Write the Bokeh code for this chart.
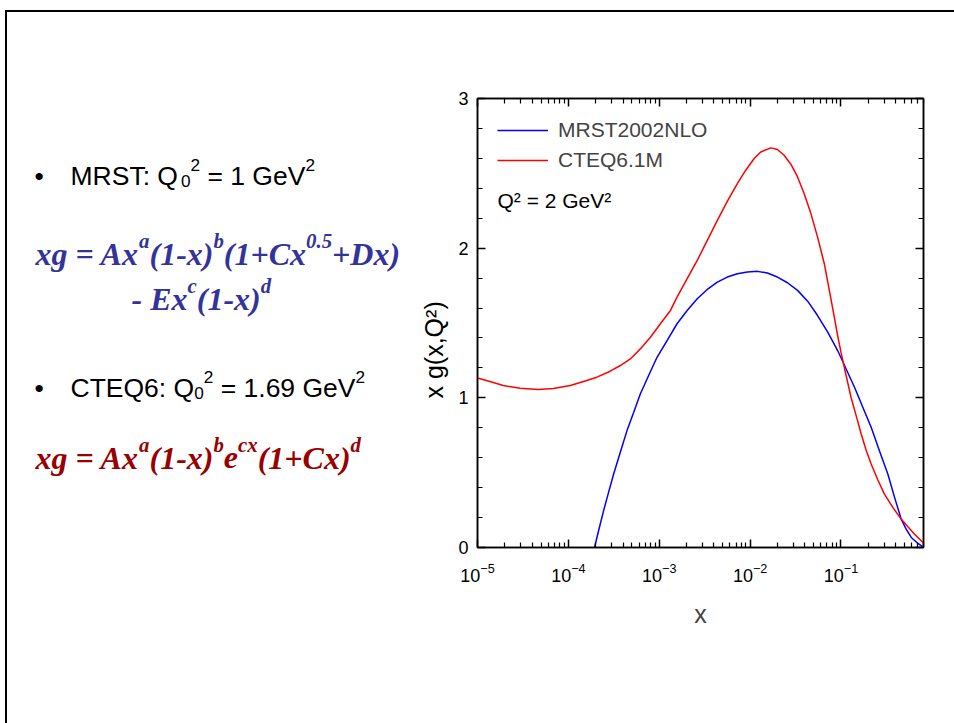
from bokeh.plotting import figure
from bokeh.layouts import row
from bokeh.models import (Label, LogAxis, LinearAxis, FixedTicker, Legend,
                          LegendItem, CustomJSTickFormatter, Range1d, Title)
from bokeh.embed import file_html
from bokeh.resources import INLINE

# ---------------- data ----------------
mrst_x = [1.94e-4, 2.15e-4, 2.44e-4, 2.77e-4, 3.15e-4, 3.73e-4, 4.42e-4, 5.24e-4,
          6.19e-4, 7.65e-4, 9.46e-4, 1.22e-3, 1.57e-3, 2.03e-3, 2.62e-3, 3.38e-3,
          4.36e-3, 5.61e-3, 7.24e-3, 9.33e-3, 1.21e-2, 1.55e-2, 2.0e-2, 2.58e-2,
          3.33e-2, 4.30e-2, 5.53e-2, 7.15e-2, 9.2e-2, 0.114, 0.141, 0.174,
          0.215, 0.265, 0.328, 0.389, 0.460, 0.522, 0.594, 0.703, 0.80]
mrst_y = [0.0, 0.112, 0.245, 0.368, 0.491, 0.636, 0.781, 0.903,
          1.026, 1.149, 1.271, 1.383, 1.495, 1.584, 1.662, 1.724,
          1.773, 1.807, 1.829, 1.840, 1.845, 1.834, 1.807, 1.769,
          1.718, 1.646, 1.550, 1.439, 1.316, 1.193, 1.071, 0.937,
          0.803, 0.647, 0.491, 0.335, 0.190, 0.123, 0.067, 0.027, 0.004]

cteq_x = [1.0e-5, 1.37e-5, 1.92e-5, 2.93e-5, 4.68e-5, 6.84e-5, 1.05e-4, 1.47e-4,
          2.06e-4, 2.89e-4, 3.73e-4, 4.81e-4, 6.19e-4, 8.0e-4, 1.03e-3, 1.33e-3,
          1.57e-3, 2.03e-3, 2.62e-3, 3.38e-3, 4.36e-3, 5.61e-3, 7.24e-3, 8.95e-3,
          1.11e-2, 1.31e-2, 1.69e-2, 2.0e-2, 2.37e-2, 2.81e-2, 3.33e-2, 3.94e-2,
          4.67e-2, 5.53e-2, 6.56e-2, 7.45e-2, 8.45e-2, 9.2e-2, 0.100, 0.114,
          0.129, 0.147, 0.167, 0.189, 0.215, 0.255, 0.301, 0.372,
          0.460, 0.546, 0.646, 0.80]
cteq_y = [1.133, 1.109, 1.082, 1.064, 1.055, 1.062, 1.082, 1.109,
          1.138, 1.178, 1.216, 1.260, 1.327, 1.405, 1.495, 1.584,
          1.673, 1.796, 1.918, 2.052, 2.186, 2.313, 2.431, 2.521,
          2.599, 2.643, 2.670, 2.659, 2.621, 2.561, 2.476, 2.364,
          2.231, 2.074, 1.896, 1.718, 1.539, 1.416, 1.305, 1.149,
          1.004, 0.881, 0.758, 0.651, 0.558, 0.451, 0.357, 0.268,
          0.190, 0.138, 0.089, 0.033]

series_names = ["MRST2002NLO", "CTEQ6.1M"]
x_major_ticks = [1e-5, 1e-4, 1e-3, 1e-2, 1e-1]
x_minor_ticks = [m * 10.0 ** k for k in range(-5, 0) for m in range(2, 10)]
y_major_ticks = [0, 1, 2, 3]
y_minor_ticks = [round(0.2 * i, 1) for i in range(16)]

# slide text: (text, position) pieces; position n = normal, sub, sup
mrst_line = [("MRST: Q", "n"), ("0", "sub"), ("2", "sup"), (" = 1 GeV", "n"), ("2", "sup")]
cteq_line = [("CTEQ6: Q", "n"), ("0", "sub"), ("2", "sup"), (" = 1.69 GeV", "n"), ("2", "sup")]
mrst_formula_1 = [("xg = Ax", "n"), ("a", "sup"), ("(1-x)", "n"), ("b", "sup"),
                  ("(1+Cx", "n"), ("0.5", "sup"), ("+Dx)", "n")]
mrst_formula_2 = [("- Ex", "n"), ("c", "sup"), ("(1-x)", "n"), ("d", "sup")]
cteq_formula = [("xg = Ax", "n"), ("a", "sup"), ("(1-x)", "n"), ("b", "sup"),
                ("e", "n"), ("cx", "sup"), ("(1+Cx)", "n"), ("d", "sup")]

SANS = "Liberation Sans"
SERIF = "Liberation Serif"
BLUE = "#333399"
RED = "#990000"

# approximate advance widths (em) used only to lay pieces side by side
SANS_W = {"M": .833, "R": .722, "S": .667, "T": .611, ":": .278, " ": .278,
          "Q": .778, "C": .722, "E": .667, "6": .556, "0": .556, "2": .556,
          "=": .584, "1": .556, ".": .278, "9": .556, "G": .778, "e": .556,
          "V": .667}
SERIF_W = {"x": .5, "g": .5, " ": .25, "=": .570, "A": .667, "a": .5, "(": .333,
           "1": .5, "-": .333, ")": .333, "b": .5, "+": .570, "C": .667,
           "0": .5, ".": .25, "5": .5, "D": .722, "E": .667, "c": .444,
           "d": .5, "e": .444}

# ---------------- page geometry ----------------
X0, Y0 = 7, 12          # page position of the canvas origin (after border)
SPLIT = 404             # page x where the chart figure starts
TW = 954                # page x where the content ends
H = 711
FL, FT, FR, FB = 477, 98, 923, 547   # chart frame on the page

# ================= left text panel =================
left = figure(width=SPLIT - X0, height=H,
              x_range=Range1d(X0, SPLIT), y_range=Range1d(FB, FT),
              x_axis_location=None, y_axis_location=None,
              output_backend="svg", toolbar_location=None,
              min_border_left=0, min_border_right=0,
              min_border_top=FT - Y0, min_border_bottom=H - (FB - Y0))
left.grid.visible = False
left.outline_line_color = None
left.background_fill_color = "white"
left.border_fill_color = "white"

def tl(px, py, text, size, color="black", font=SANS, style="normal"):
    left.add_layout(Label(x=px, y=py, text=text, text_font=font,
                          text_font_size=f"{size}px", text_font_style=style,
                          text_color=color, text_baseline="alphabetic"))

def seq(x, base, parts, size, widths, color="black", font=SANS,
        style="normal", sub_drop=5, sup_raise=0.38):
    small = round(size * 0.65, 1)
    for text, kind in parts:
        s = size if kind == "n" else small
        y = base if kind == "n" else (base + sub_drop if kind == "sub"
                                      else base - sup_raise * size)
        lead = len(text) - len(text.lstrip(" "))
        x += sum(widths[c] for c in text[:lead]) * s
        tl(x, y, text.strip(" "), s, color, font, style)
        x += sum(widths[c] for c in text[lead:]) * s

BI = "bold italic"
tl(34, 175, "•", 26.5)
seq(70, 175, mrst_line, 26.5, SANS_W)
seq(35, 253, mrst_formula_1, 32, SERIF_W, BLUE, SERIF, BI, sup_raise=0.4)
seq(131, 298, mrst_formula_2, 32, SERIF_W, BLUE, SERIF, BI, sup_raise=0.4)
tl(34, 387, "•", 26.5)
seq(70, 387, cteq_line, 26.5, SANS_W)
seq(35, 457, cteq_formula, 32, SERIF_W, RED, SERIF, BI, sup_raise=0.4)

# ================= chart =================
W = TW - SPLIT
p = figure(width=W, height=H, x_axis_type="log",
           x_range=(1e-5, 0.81), y_range=(0, 3),
           output_backend="svg", toolbar_location=None,
           min_border_left=FL - SPLIT, min_border_right=W - (FR - SPLIT),
           min_border_top=FT - Y0, min_border_bottom=H - (FB - Y0))
p.grid.visible = False
p.outline_line_color = "black"
p.outline_line_width = 1.5
p.background_fill_color = "white"
p.border_fill_color = "white"

r_mrst = p.line(mrst_x, mrst_y, line_color="#0000ff", line_width=1.5)
r_cteq = p.line(cteq_x, cteq_y, line_color="#ff0000", line_width=1.5)

def style_axis(ax):
    ax.axis_line_color = "black"
    ax.axis_line_width = 1.5
    ax.major_tick_line_width = 1.5
    ax.minor_tick_line_width = 1.2
    ax.major_tick_in = 8
    ax.major_tick_out = 0
    ax.minor_tick_in = 5
    ax.minor_tick_out = 0
    ax.major_label_text_font = SANS
    ax.major_label_text_font_size = "18px"
    ax.major_label_text_color = "black"

xt = FixedTicker(ticks=x_major_ticks, minor_ticks=x_minor_ticks)
yt = FixedTicker(ticks=y_major_ticks, minor_ticks=y_minor_ticks)
p.xaxis.ticker = xt
p.yaxis.ticker = yt
for ax in p.xaxis + p.yaxis:
    style_axis(ax)
p.xaxis.major_label_standoff = 15
p.yaxis.major_label_standoff = 9
p.xaxis.axis_label = "x"
p.xaxis.axis_label_text_font = SANS
p.xaxis.axis_label_text_font_size = "25px"
p.xaxis.axis_label_text_font_style = "normal"
p.xaxis.axis_label_standoff = 15

blank = CustomJSTickFormatter(code="return ''")
top = LogAxis(ticker=xt, formatter=blank)
right = LinearAxis(ticker=yt, formatter=blank)
style_axis(top)
style_axis(right)
p.add_layout(top, "above")
p.add_layout(right, "right")

# y-axis title, placed like the original (not centred on the frame)
p.add_layout(Title(text="x g(x,Q²)", align="left", offset=FB - 398,
                   standoff=16, text_font=SANS, text_font_size="25px",
                   text_font_style="normal", text_color="black"), "left")

legend = Legend(items=[LegendItem(label=series_names[0], renderers=[r_mrst]),
                       LegendItem(label=series_names[1], renderers=[r_cteq])],
                location="top_left", glyph_width=51, glyph_height=20,
                label_text_font=SANS, label_text_font_size="21px",
                label_standoff=10, spacing=6, margin=20, padding=0,
                border_line_color=None, background_fill_alpha=0)
p.add_layout(legend)

p.add_layout(Label(x=497 - FL, y=FB - 200, x_units="screen", y_units="screen",
                   text="Q² = 2 GeV²", text_font=SANS, text_font_size="21px",
                   text_color="black", text_baseline="alphabetic"))

page = row(left, p, spacing=0,
           styles={"margin-left": "5px", "margin-top": "10px",
                   "border-left": "2px solid black",
                   "border-top": "2px solid black",
                   "overflow": "hidden"})

open("out.html", "w").write(file_html(page, INLINE))
